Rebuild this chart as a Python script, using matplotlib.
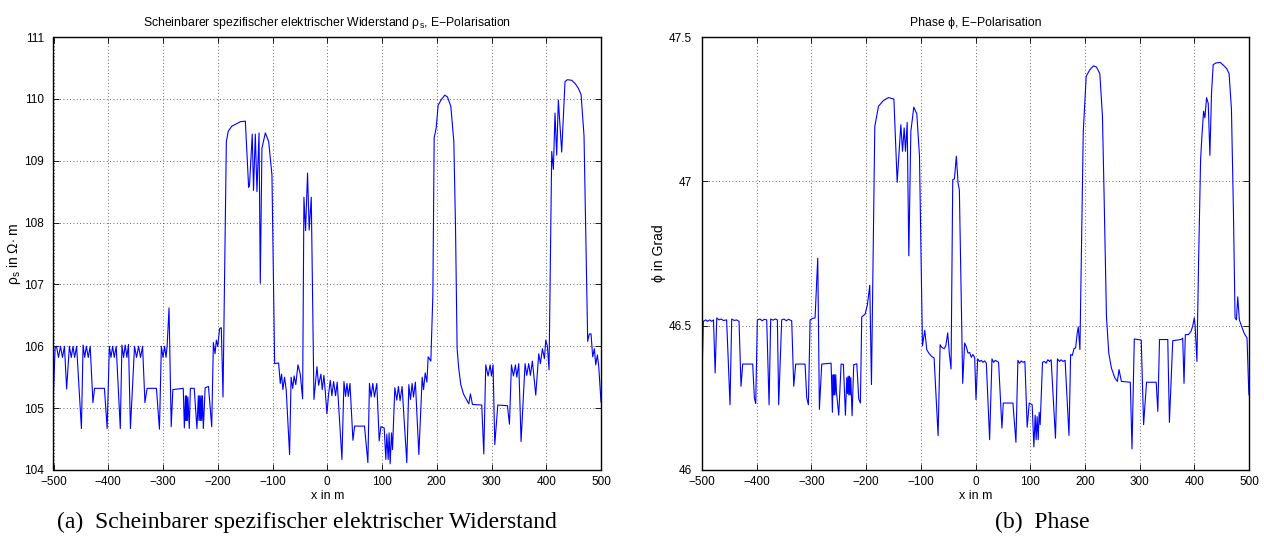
import matplotlib
matplotlib.use("Agg")
import matplotlib.pyplot as plt

# Scheinbarer spezifischer Widerstand (E-Polarisation), Stuetzstellen
rho_x = [-500, -497, -494.5, -490.9, -487.2, -483.6, -480, -476, -471, -467.5, -464.4, -461.4, -457.8,
         -449, -446, -443, -440, -436.5, -433, -428, -425, -407, -402, -398, -395, -392, -389, -385.5,
         -378, -375, -372, -369, -366, -363, -359.5, -352, -348.3, -344.6, -341, -337.3, -333, -329,
         -312, -306.5, -303, -300, -297, -294.5, -292.5, -289, -285, -282, -263, -261, -259, -258,
         -257, -255.5, -254.5, -252, -250, -243, -238, -235.5, -234.3, -233, -231.8, -230.5, -229.3,
         -228, -226.3, -223, -217, -211, -208, -205, -202.5, -200, -196.5, -193.5, -190.4, -184.3,
         -180.7, -174, -165, -159, -149.6, -143.6, -142, -137, -134.7, -131.4, -128.4, -124.6, -122.3,
         -119.3, -113.1, -107, -101, -96.1, -88.8, -85.8, -83.4, -81, -78, -75, -68.8, -66, -63, -60.5,
         -57.5, -53.5, -49.3, -45, -42.6, -39.6, -36, -33, -29.2, -24.3, -18.8, -15.8, -11.6, -9.1, -6.1,
         -3.7, -0.6, 2.4, 5.5, 8.5, 11.6, 15.2, 18.2, 26.8, 30.5, 33.5, 36, 38.5, 41.5, 46.9, 50, 68,
         74.2, 77.1, 80, 83.2, 86.2, 90.5, 94.9, 97.9, 104, 107, 108.8, 111.3, 113, 114.9, 117.4, 119.2,
         123.4, 127, 130, 133, 136.7, 145.3, 149, 152, 155, 157.5, 161, 167.3, 173.4, 175.9, 178.9, 182,
         184.3, 189.2, 192.9, 195.3, 199, 202.6, 209.3, 214.7, 219.6, 225.7, 231.2, 234.3, 237.2, 240.2,
         243.9, 248.8, 254.9, 258.5, 261.5, 265.2, 282.2, 285.9, 289.5, 293.8, 297.5, 299.9, 302.9, 306,
         311.5, 329.1, 332.8, 336.4, 340.1, 343.7, 346.2, 349.8, 354, 361.3, 364.4, 368, 371, 374.7,
         380.8, 386.3, 389.3, 393, 396.7, 399.1, 402.1, 405.1, 410, 413, 416, 419.1, 422.1, 428.2, 434.3,
         438.6, 446.5, 452.6, 458.7, 463.6, 469, 475.7, 478.7, 481.8, 484.8, 487.9, 490.3, 493.4, 495.8,
         500]
rho_y = [105.26, 105.98, 106.0, 105.82, 106.0, 105.82, 106.0, 105.31, 106.0, 105.82, 106.0, 105.82, 106.0,
         104.67, 106.02, 105.82, 106.0, 105.82, 106.0, 105.09, 105.32, 105.32, 104.67, 106.0, 105.82, 106.0,
         105.82, 106.0,
         104.67, 106.02, 105.82, 106.02, 105.82, 106.03, 104.67, 106.0, 105.82, 106.0, 105.82, 106.0, 105.09,
         105.32, 105.32, 104.66, 106.0, 105.82, 106.0, 105.82, 106.0, 106.62, 104.70, 105.3, 105.32, 104.68,
         105.2, 104.8, 105.2, 104.8, 105.18, 104.67, 105.32, 105.32, 104.67, 105.2, 104.8, 105.2, 104.8,
         105.2, 104.8, 105.2, 104.67, 105.33, 105.35, 104.7, 106.06, 105.88, 106.1, 106.0, 106.29, 106.3,
         105.18, 109.31, 109.48, 109.56, 109.6, 109.63, 109.64, 108.57, 108.6, 109.43, 108.52, 109.43,
         108.5, 109.45, 107.02, 109.2, 109.45, 109.31, 108.77, 105.72, 105.73, 105.4, 105.55, 105.3, 105.5,
         105.3, 104.25, 105.5, 105.32, 105.52, 105.38, 105.7, 105.55, 105.15, 108.41, 107.87, 108.8,
         107.88, 108.41, 105.14, 105.67, 105.37, 105.55, 105.3, 105.53, 105.28, 104.91, 105.22, 105.45,
         105.2, 105.43, 105.2, 105.42, 104.17, 105.43, 105.19, 105.4, 105.19, 105.4, 104.48, 104.71,
         104.71, 104.12, 105.4, 105.18, 105.4, 105.18, 105.4, 104.47, 104.7, 104.68, 104.17, 104.58,
         104.17, 104.6, 104.1, 104.6, 104.33, 105.33, 105.13, 105.35, 105.12, 105.35, 104.12, 105.38,
         105.14, 105.4, 105.18, 105.42, 104.25, 105.5, 105.3, 105.57, 105.42, 105.83, 105.76, 106.83,
         109.37, 109.53, 109.9, 110.0, 110.06, 110.03, 109.88, 109.31, 107.91, 105.96, 105.64, 105.38,
         105.23, 105.13, 105.07, 105.23, 105.06, 105.05, 104.26, 105.7, 105.52, 105.7, 105.52, 105.7,
         104.41, 105.05, 105.04, 104.74, 105.7, 105.52, 105.7, 105.5, 105.72, 104.46, 105.72, 105.53,
         105.72, 105.53, 105.76, 105.21, 105.88, 105.72, 105.96, 105.8, 106.1, 106.0, 105.62, 109.15,
         108.86, 109.77, 109.09, 109.98, 109.14, 110.28, 110.31, 110.3, 110.25, 110.17, 110.07, 109.4,
         106.08, 106.2, 106.2, 105.83, 105.96, 105.7, 105.86, 105.68, 105.1]

# Phase (E-Polarisation)
phi_x = [-500, -497.6, -493, -490, -486, -482, -479, -476, -473, -469, -465, -461, -455, -448.8, -445.7,
         -441, -437, -432.3, -428.7, -425.6, -407.3, -404.3, -401.8, -398.8, -394, -390, -386, -381.7,
         -377.4, -374.4, -370, -366, -362.2, -359.8, -354.3, -350, -346, -342, -336, -332.3, -328.7,
         -311.6, -308.5, -305.5, -302.4, -298, -293.3, -288.4, -285.4, -281.1, -264, -261.6, -260.3,
         -259, -258, -256.8, -255.5, -254.2, -250, -245.7, -241.5, -237.8, -235.3, -234, -232.8, -231.6,
         -230.4, -229.2, -228, -225.6, -222.6, -217, -213.4, -210.4, -208, -201.8, -197.6, -193.3,
         -190.2, -184.1, -177.4, -168.3, -159.1, -149.2, -143.2, -136.5, -133.4, -130.4, -128, -124.9,
         -121.9, -118.2, -112.8, -107.3, -102.4, -97, -92.7, -89.1, -85.4, -80.5, -75.7, -68.4, -64.7,
         -62.3, -57.4, -54.3, -50.8, -47.7, -44.7, -41.6, -38.6, -35, -31.9, -29.5, -23.4, -19.8, -16.7,
         -13.7, -10.6, -7.6, -4.9, -1.5, 0.9, 4, 7.6, 10.6, 13.7, 16.7, 19.8, 25.8, 30.1, 33.1, 36.2, 39.8,
         42.2, 48.3, 50.8, 68.4, 73.9, 77.5, 80.5, 83.6, 86.6, 90.3, 94.5, 98.2, 103.6, 106.7, 109.1,
         110.9, 112.7, 114.6, 116.4, 118.2, 122.5, 126.1, 129.2, 132.2, 135.3, 138.3, 146.2, 149.8, 153.5,
         156.5, 160.2, 163.8, 170.9, 173.9, 177, 180, 183, 186, 187.9, 190.9, 193.9, 197, 202.4, 209.1,
         215.8, 221.2, 227.3, 232.1, 235.2, 239.4, 243.6, 248.5, 254.5, 259.4, 262.4, 266.7, 283, 286.1,
         290.3, 303, 307.3, 312.7, 330.3, 333.3, 336.4, 351.5, 354.5, 360.6, 375.8, 378.8, 381.2, 383.6,
         389.1, 393.9, 397, 400, 401.5, 404.8, 407.9, 411.5, 413.9, 417, 419.4, 422.4, 425.5, 428.5,
         431.5, 434.5, 439.4, 447.3, 454.5, 459.4, 463.6, 467.9, 471.5, 474.5, 477, 479.4, 482.4, 486,
         490.9, 496.4, 499.4, 500]
phi_y = [46.31, 46.515, 46.52, 46.515, 46.52, 46.515, 46.52, 46.336, 46.527, 46.52, 46.523, 46.518, 46.52,
         46.226, 46.523, 46.518, 46.52, 46.515, 46.29, 46.367, 46.367, 46.25, 46.23, 46.52, 46.523, 46.517,
         46.522, 46.52, 46.226, 46.523, 46.519, 46.523, 46.52, 46.226, 46.52, 46.523, 46.517, 46.522,
         46.517, 46.29, 46.367, 46.367, 46.25, 46.226, 46.52, 46.525, 46.527, 46.734, 46.21, 46.367,
         46.37, 46.2, 46.33, 46.26, 46.33, 46.26, 46.33, 46.27, 46.19, 46.367, 46.366, 46.19, 46.32,
         46.265, 46.325, 46.26, 46.325, 46.26, 46.32, 46.188, 46.365, 46.368, 46.246, 46.232, 46.53,
         46.54, 46.573, 46.64, 46.296, 47.19, 47.26, 47.28, 47.29, 47.285, 46.997, 47.196, 47.104,
         47.185, 47.104, 47.204, 46.742, 47.173, 47.257, 47.234, 47.087, 46.43, 46.484, 46.417, 46.405,
         46.394, 46.388, 46.119, 46.434, 46.426, 46.42, 46.43, 46.475, 46.40, 46.35, 47.006, 47.008,
         47.087, 46.994, 46.97, 46.30, 46.44, 46.426, 46.405, 46.407, 46.39, 46.40, 46.39, 46.244,
         46.385, 46.376, 46.38, 46.373, 46.378, 46.37, 46.105, 46.385, 46.373, 46.38, 46.376, 46.373,
         46.145, 46.232, 46.232, 46.096, 46.38, 46.37, 46.378, 46.373, 46.376, 46.148, 46.232, 46.226,
         46.08, 46.19, 46.105, 46.185, 46.105, 46.2, 46.157, 46.373, 46.376, 46.37, 46.382, 46.376,
         46.382, 46.11, 46.385, 46.376, 46.382, 46.376, 46.38, 46.12, 46.4, 46.397, 46.42, 46.423,
         46.475, 46.496, 46.417, 46.78, 47.173, 47.364, 47.387, 47.40, 47.396, 47.373, 47.225, 46.94,
         46.532, 46.405, 46.353, 46.32, 46.307, 46.348, 46.307, 46.304, 46.073, 46.454, 46.45, 46.157,
         46.304, 46.304, 46.203, 46.452, 46.452, 46.165, 46.448, 46.452, 46.457, 46.3, 46.469, 46.469,
         46.48, 46.498, 46.527, 46.50, 46.376, 46.73, 47.075, 47.156, 47.243, 47.22, 47.29, 47.27,
         47.09, 47.306, 47.404, 47.41, 47.412, 47.4, 47.39, 47.373, 47.25, 46.9, 46.527, 46.52, 46.6,
         46.52, 46.5, 46.475, 46.457, 46.28, 46.26]

x_ticks = list(range(-500, 501, 100))
rho_ticks = [104, 105, 106, 107, 108, 109, 110, 111]
phi_ticks = [46, 46.5, 47, 47.5]
phi_ticklabels = ["46", "46.5", "47", "47.5"]

plt.rcParams['font.family'] = ['Liberation Sans', 'DejaVu Sans']
plt.rcParams['axes.unicode_minus'] = True
plt.rcParams['mathtext.fontset'] = 'custom'
plt.rcParams['mathtext.rm'] = 'Liberation Sans'
plt.rcParams['mathtext.it'] = 'Liberation Sans'

fig = plt.figure(figsize=(12.64, 5.44), dpi=100)
W, H = 1264.0, 544.0
ax1 = fig.add_axes([53.5 / W, (H - 470) / H, 547.5 / W, 433 / H])
ax2 = fig.add_axes([702 / W, (H - 470) / H, 547 / W, 433 / H])


def style(ax):
    ax.set_xlim(-500, 500)
    ax.set_xticks(x_ticks)
    ax.tick_params(direction='in', top=True, right=True, length=4, width=0.6,
                   labelsize=8.5)
    ax.tick_params(axis='x', pad=4)
    ax.tick_params(axis='y', pad=7)
    ax.grid(True, linestyle=(0, (1, 3)), color='black', linewidth=0.6, alpha=0.8)
    for s in ax.spines.values():
        s.set_linewidth(1.0)
    ax.set_xlabel('x in m', fontsize=9, labelpad=2)


ax1.plot(rho_x, rho_y, color='#0000ff', linewidth=0.8)
style(ax1)
ax1.set_ylim(104, 111)
ax1.set_yticks(rho_ticks)
ax1.set_ylabel('ρ$_\\mathrm{s}$ in Ω$\\cdot$ m', fontsize=10, labelpad=1)
ax1.set_title('Scheinbarer spezifischer elektrischer Widerstand ρ$_\\mathrm{s}$, E\u2212Polarisation',
              fontsize=8.8, pad=8)

ax2.plot(phi_x, phi_y, color='#0000ff', linewidth=0.8)
style(ax2)
ax2.set_ylim(46, 47.5)
ax2.set_yticks(phi_ticks)
ax2.set_yticklabels(phi_ticklabels)
ax2.set_ylabel('ϕ in Grad', fontsize=10, labelpad=2)
ax2.set_title('Phase ϕ, E\u2212Polarisation', fontsize=8.8, pad=8)

fig.text(307 / W, 1 - 522 / H, '(a)  Scheinbarer spezifischer elektrischer Widerstand',
         family=['Liberation Serif', 'DejaVu Serif'], fontsize=17, ha='center', va='center')
fig.text(1042 / W, 1 - 522 / H, '(b)  Phase',
         family=['Liberation Serif', 'DejaVu Serif'], fontsize=17, ha='center', va='center')

fig.savefig('out.png', dpi=100)
